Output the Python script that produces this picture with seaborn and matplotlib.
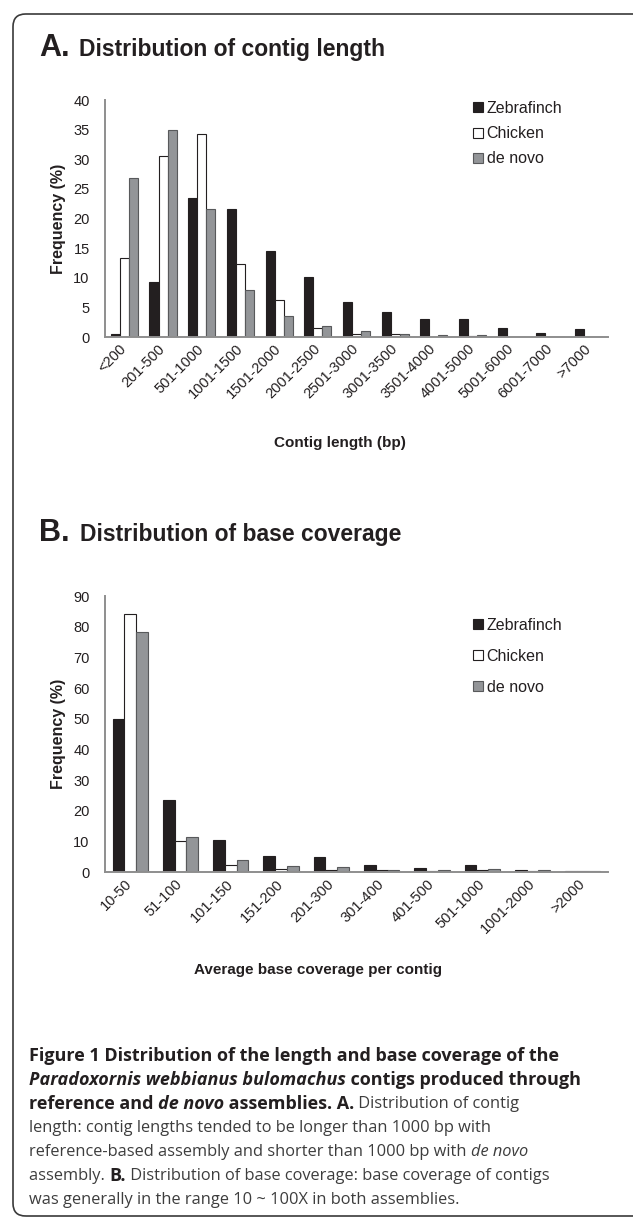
import matplotlib
matplotlib.use("Agg")
import numpy as np
import pandas as pd
import matplotlib.pyplot as plt
import seaborn as sns
from matplotlib.patches import Patch, FancyBboxPatch

# Data (frequency in %)
assemblies = ["Zebrafinch", "Chicken", "de novo"]

length_bins = ["<200", "201-500", "501-1000", "1001-1500", "1501-2000", "2001-2500",
               "2501-3000", "3001-3500", "3501-4000", "4001-5000", "5001-6000",
               "6001-7000", ">7000"]
length_zebra = [0.5, 9.2, 23.4, 21.6, 14.5, 10.1, 5.9, 4.3, 3.1, 3.0, 1.6, 0.7, 1.35]
length_chicken = [13.4, 30.5, 34.2, 12.4, 6.3, 1.5, 0.55, 0.55, 0.0, 0.1, 0.0, 0.0, 0.0]
length_denovo = [26.8, 35.0, 21.6, 8.0, 3.6, 1.8, 1.05, 0.55, 0.4, 0.35, 0.0, 0.0, 0.0]

coverage_bins = ["10-50", "51-100", "101-150", "151-200", "201-300", "301-400",
                 "401-500", "501-1000", "1001-2000", ">2000"]
coverage_zebra = [49.8, 23.4, 10.3, 5.3, 4.9, 2.3, 1.2, 2.3, 0.7, 0.3]
coverage_chicken = [84.2, 10.0, 2.2, 1.1, 0.6, 0.6, 0.4, 0.5, 0.3, 0.3]
coverage_denovo = [78.3, 11.4, 4.0, 1.8, 1.7, 0.8, 0.5, 0.9, 0.5, 0.4]

fills = ["#231f20", "#ffffff", "#939598"]
edges = ["#231f20", "#231f20", "#58595b"]
axis_gray = "#8e8e8e"
ink = "#231f20"

W, H = 633, 1217

sns.set_theme(style="white")
plt.rcParams["font.family"] = ["Liberation Sans", "DejaVu Sans"]

fig = plt.figure(figsize=(W / 100, H / 100), dpi=100)


def axes_px(left, top, right, bottom):
    return fig.add_axes([left / W, 1 - bottom / H, (right - left) / W, (bottom - top) / H])


def long_frame(bins, zebra, chicken, denovo):
    return pd.DataFrame({
        "bin": bins * 3,
        "assembly": [a for a in assemblies for _ in bins],
        "freq": list(zebra) + list(chicken) + list(denovo),
    })


def draw_panel(ax, df, bins, ymax, ystep):
    sns.barplot(data=df, x="bin", y="freq", hue="assembly", order=bins,
                hue_order=assemblies, palette=fills, saturation=1, width=0.7,
                linewidth=0.8, ax=ax, legend=False)
    for cont, ec in zip(ax.containers, edges):
        for bar in cont:
            bar.set_edgecolor(ec)
    ax.set_ylim(0, ymax)
    ax.set_yticks(np.arange(0, ymax + 1, ystep))
    ax.set_xlim(-0.5, len(bins) - 0.5)
    for s in ["top", "right"]:
        ax.spines[s].set_visible(False)
    for s in ["left", "bottom"]:
        ax.spines[s].set_color(axis_gray)
        ax.spines[s].set_linewidth(1.4)
    ax.tick_params(axis="y", length=4, width=1, color=axis_gray, labelsize=10.5,
                   labelcolor=ink, pad=7)
    ax.tick_params(axis="x", length=0, labelsize=10.5, labelcolor=ink, pad=7)
    plt.setp(ax.get_xticklabels(), rotation=45, ha="right", va="center",
             rotation_mode="anchor")
    ax.set_xlabel("")
    ax.set_ylabel("Frequency (%)", fontsize=11.5, fontweight="bold", color=ink)
    ax.yaxis.set_label_coords(-0.077, 0.5)
    ax.set_facecolor("none")


def legend_at(top_px, spacing):
    handles = [Patch(facecolor=f, edgecolor=e, linewidth=0.8, label=a)
               for a, f, e in zip(assemblies, fills, edges)]
    fig.legend(handles=handles, loc="upper left", bbox_to_anchor=(473 / W, 1 - top_px / H),
               frameon=False, fontsize=11.5, handlelength=0.6, handleheight=0.6,
               handletextpad=0.25, labelspacing=spacing, borderpad=0, borderaxespad=0,
               labelcolor=ink)


# outer rounded frame
frame = FancyBboxPatch((13 / W, 1 / H), 700 / W, (1215 - 13) / H,
                       boxstyle="round,pad=0,rounding_size=0.02",
                       transform=fig.transFigure, facecolor="none",
                       edgecolor="#3a3a3a", linewidth=1.2, mutation_aspect=W / H)
fig.patches.append(frame)

# Panel A
fig.text(39 / W, 1 - 56 / H, "A.", fontsize=22, fontweight="bold", color=ink, va="baseline")
fig.text(79 / W, 1 - 56 / H, "Distribution of contig length", fontsize=16.5,
         fontweight="bold", color=ink, va="baseline")
ax_a = axes_px(105, 100, 608, 337)
draw_panel(ax_a, long_frame(length_bins, length_zebra, length_chicken, length_denovo),
           length_bins, 40, 5)
fig.text(340 / W, 1 - 443 / H, "Contig length (bp)", fontsize=11, fontweight="bold",
         color=ink, ha="center", va="center")
legend_at(101, 0.64)

# Panel B
fig.text(39 / W, 1 - 541 / H, "B.", fontsize=22, fontweight="bold", color=ink, va="baseline")
fig.text(80 / W, 1 - 541 / H, "Distribution of base coverage", fontsize=16.5,
         fontweight="bold", color=ink, va="baseline")
ax_b = axes_px(105, 596, 608, 872)
draw_panel(ax_b, long_frame(coverage_bins, coverage_zebra, coverage_chicken, coverage_denovo),
           coverage_bins, 90, 10)
fig.text(318 / W, 1 - 970 / H, "Average base coverage per contig", fontsize=11,
         fontweight="bold", color=ink, ha="center", va="center")
legend_at(618, 1.0)

# Caption with mixed styles
B, R = "bold", "normal"
N, I = "normal", "italic"
soft = "#3d3d3d"
caption_lines = [
    [("Figure 1 Distribution of the length and base coverage of the", B, N, ink)],
    [("Paradoxornis webbianus bulomachus", B, I, ink), (" contigs produced through", B, N, ink)],
    [("reference and ", B, N, ink), ("de novo", B, I, ink), (" assemblies. A.", B, N, ink),
     (" Distribution of contig", R, N, soft)],
    [("length: contig lengths tended to be longer than 1000 bp with", R, N, soft)],
    [("reference-based assembly and shorter than 1000 bp with ", R, N, soft),
     ("de novo", R, I, soft)],
    [("assembly. ", R, N, soft), ("B.", B, N, ink),
     (" Distribution of base coverage: base coverage of contigs", R, N, soft)],
    [("was generally in the range 10 ~ 100X in both assemblies.", R, N, soft)],
]
renderer = fig.canvas.get_renderer()
cap_sizes = {B: 13.0, R: 11.8}
for i, runs in enumerate(caption_lines):
    y = 1056 + 24 * i
    x = 29
    for text, weight, style, color in runs:
        t = fig.text(x / W, 1 - y / H, text, fontsize=cap_sizes[weight], fontweight=weight,
                     fontstyle=style, family=["Open Sans", "DejaVu Sans"], color=color,
                     va="center", ha="left")
        x += t.get_window_extent(renderer).width

fig.savefig("out.png", dpi=100)
